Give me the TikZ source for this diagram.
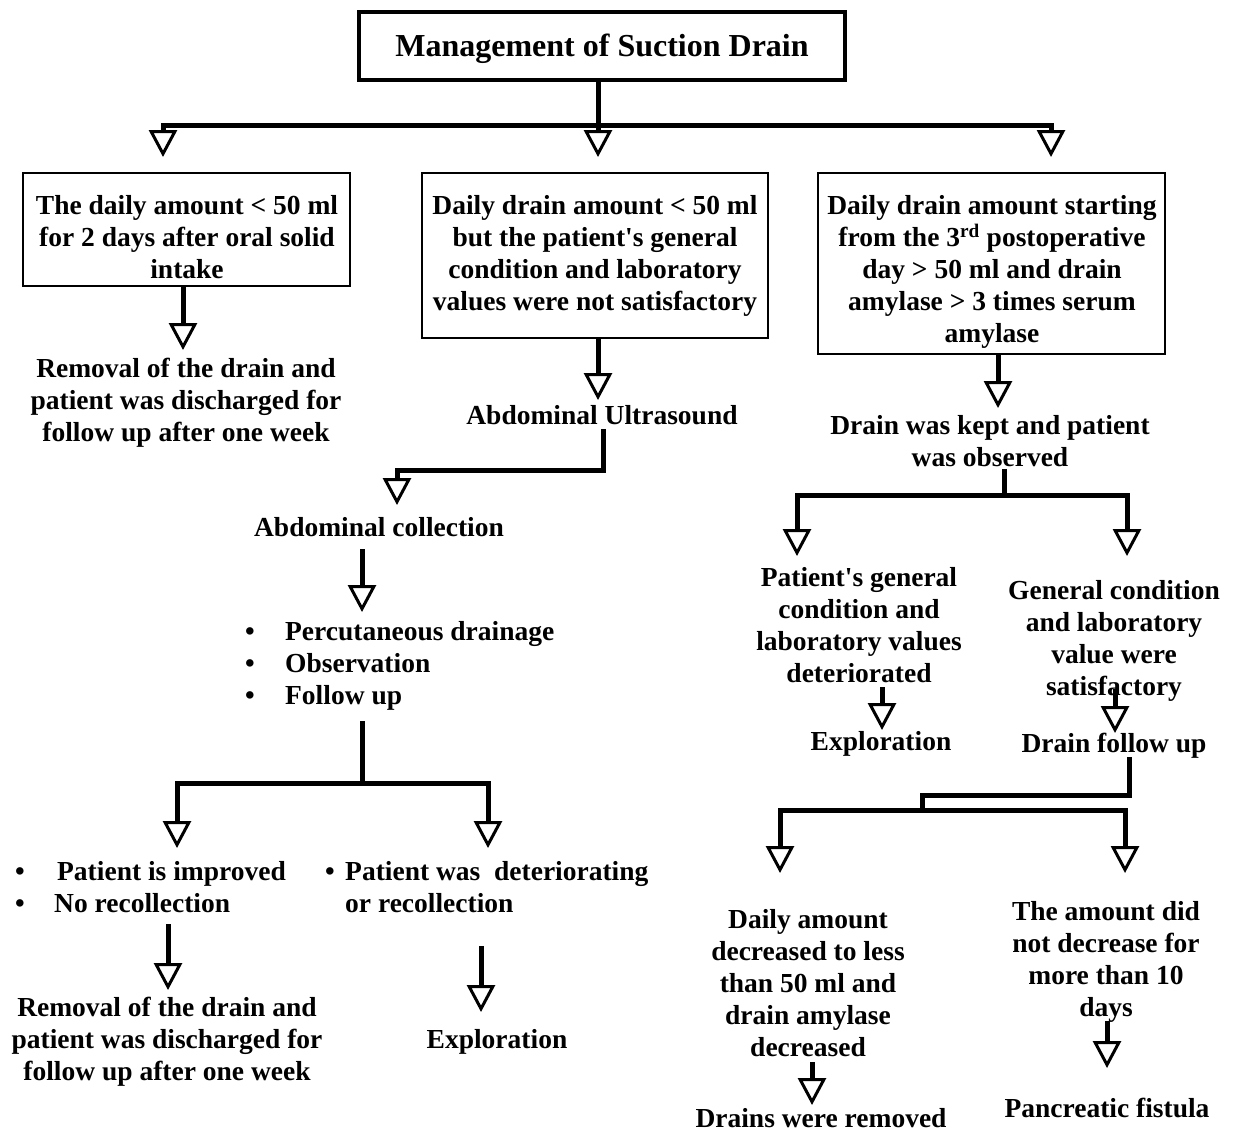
\documentclass[tikz,border=0pt]{standalone}
\usepackage{fontspec}
\setmainfont{Liberation Serif}
\usetikzlibrary{arrows.meta}
\begin{document}
\begin{tikzpicture}[x=1pt,y=-1pt,
  txt/.style={inner sep=0pt, align=center, font=\fontsize{27.5}{32}\selectfont\bfseries},
  ltxt/.style={txt, align=left},
  box/.style={draw, line width=2pt, inner sep=0pt},
  ln/.style={line width=5pt, line cap=rect},
  arr/.style={ln, -{Triangle[length=27pt,width=28pt,line width=3pt,fill=white]}},
]
\useasboundingbox[fill=white] (0,0) rectangle (1233,1132);

% title
\node[draw, line width=4pt, minimum width=486pt, minimum height=68pt, inner sep=0pt,
      text height=21pt, text depth=0pt,
      font=\fontsize{32}{38}\selectfont\bfseries] (title) at (602,46) {Management of Suction Drain};

% boxes
\node[box, minimum width=327pt, minimum height=113pt] (b1) at (186.5,229.5) {};
\node[box, minimum width=346pt, minimum height=165pt] (b2) at (595,255.5) {};
\node[box, minimum width=347pt, minimum height=181pt] (b3) at (991.5,263.5) {};
\node[txt, anchor=north] (b1t) at (187,195) {The daily amount < 50 ml\\for 2 days after oral solid\\intake};
\node[txt, anchor=north] (b2t) at (595,195) {Daily drain amount < 50 ml\\but the patient\textquotesingle s general\\condition and laboratory\\values were not satisfactory};
\node[txt, anchor=north] (b3t) at (992,195) {Daily drain amount starting\\from the 3\textsuperscript{rd} postoperative\\day > 50 ml and drain\\amylase > 3 times serum\\amylase};

% left column
\node[txt, anchor=north] (r1) at (186,358) {Removal of the drain and\\patient was discharged for\\follow up after one week};

% middle column
\node[txt, anchor=north] (us) at (602,405) {Abdominal Ultrasound};
\node[txt, anchor=north] (coll) at (379,517) {Abdominal collection};
\node[ltxt, anchor=north west] (list) at (245,621) {\makebox[40pt][l]{•}Percutaneous drainage\\\makebox[40pt][l]{•}Observation\\\makebox[40pt][l]{•}Follow up};
\node[ltxt, anchor=north west] (impr) at (15,861) {\makebox[42pt][l]{•}Patient is improved\\\makebox[39pt][l]{•}No recollection};
\node[ltxt, anchor=north west] (det) at (325,861) {\makebox[20pt][l]{•}Patient was\ \ deteriorating\\\hspace*{20pt}or recollection};
\node[txt, anchor=north] (rem2) at (167,997) {Removal of the drain and\\patient was discharged for\\follow up after one week};
\node[txt, anchor=north] (expl1) at (497,1029) {Exploration};

% right column
\node[txt, anchor=north] (kept) at (990,415) {Drain was kept and patient\\was observed};
\node[txt, anchor=north] (pdet) at (859,567) {Patient\textquotesingle s general\\condition and\\laboratory values\\deteriorated};
\node[txt, anchor=north] (psat) at (1114,580) {General condition\\and laboratory\\value were\\satisfactory};
\node[txt, anchor=north] (expl2) at (881,731) {Exploration};
\node[txt, anchor=north] (dfu) at (1114,733) {Drain follow up};
\node[txt, anchor=north] (dec) at (808,909) {Daily amount\\decreased to less\\than 50 ml and\\drain amylase\\decreased};
\node[txt, anchor=north] (nodec) at (1106,901) {The amount did\\not decrease for\\more than 10\\days};
\node[txt, anchor=north] (rem3) at (821,1108) {Drains were removed};
\node[txt, anchor=north] (fist) at (1107,1098) {Pancreatic fistula};

% connector coordinates
\coordinate (j0) at (598,125);
\coordinate (xa1) at (163,0);
\coordinate (xa3) at (1051,0);
\coordinate (x1) at (183,0);
\coordinate (x2) at (603,0);
\coordinate (j1) at (397,470);
\coordinate (x3) at (362,0);
\coordinate (j2) at (362,783);
\coordinate (xa) at (177,0);
\coordinate (xb) at (488,0);
\coordinate (x4) at (168,0);
\coordinate (x5) at (481,0);
\coordinate (x6) at (998,0);
\coordinate (x7) at (1004,0);
\coordinate (j3) at (1004,495);
\coordinate (xc) at (797,0);
\coordinate (xd) at (1127,0);
\coordinate (x8) at (882,0);
\coordinate (x9) at (1115,0);
\coordinate (x10) at (1129,0);
\coordinate (j4) at (922,795);
\coordinate (j5) at (922,810);
\coordinate (xe) at (780,0);
\coordinate (xf) at (1125,0);
\coordinate (x11) at (812,0);
\coordinate (x12) at (1107,0);

% top
\draw[arr, shorten >=15pt] (title.south -| j0) -- (b2.north -| j0);
\draw[arr, shorten >=15pt] (j0) -| (b1.north -| xa1);
\draw[arr, shorten >=15pt] (j0) -| (b3.north -| xa3);

% left
\draw[arr, shorten >=8pt] (b1.south -| x1) -- (r1.north -| x1);

% middle
\draw[arr, shorten >=5pt] (b2.south -| j0) -- (us.north -| j0);
\draw[arr, shorten <=7pt, shorten >=12pt] (us.south -| x2) |- (j1) -- (j1 |- coll.north);
\draw[arr, shorten <=15pt, shorten >=9pt] (coll.south -| x3) -- (list.north -| x3);
\draw[ln, shorten <=13pt] (list.south -| x3) -- (j2);
\draw[arr, shorten >=13pt] (j2) -| (impr.north -| xa);
\draw[arr, shorten >=13pt] (j2) -| (det.north -| xb);
\draw[arr, shorten <=14pt, shorten >=7pt] (impr.south -| x4) -- (rem2.north -| x4);
\draw[arr, shorten <=36pt, shorten >=17pt] (det.south -| x5) -- (expl1.north -| x5);

% right
\draw[arr, shorten >=7pt] (b3.south -| x6) -- (kept.north -| x6);
\draw[ln, shorten <=5pt] (kept.south -| x7) -- (j3);
\draw[arr, shorten >=11pt] (j3) -| (pdet.north -| xc);
\draw[arr, shorten >=24pt] (j3) -| (psat.north -| xd);
\draw[arr, shorten <=7pt, shorten >=1pt] (pdet.south -| x8) -- (expl2.north -| x8);
\draw[arr, shorten <=-10pt, shorten >=0pt] (psat.south -| x9) -- (dfu.north -| x9);
\draw[ln, shorten <=1pt] (dfu.south -| x10) |- (j4) -- (j5);
\draw[arr, shorten >=36pt] (j5) -| (dec.north -| xe);
\draw[arr, shorten >=28pt] (j5) -| (nodec.north -| xf);
\draw[arr, shorten <=8pt, shorten >=3pt] (dec.south -| x11) -- (rem3.north -| x11);
\draw[arr, shorten <=1pt, shorten >=30pt] (nodec.south -| x12) -- (fist.north -| x12);
\end{tikzpicture}
\end{document}
